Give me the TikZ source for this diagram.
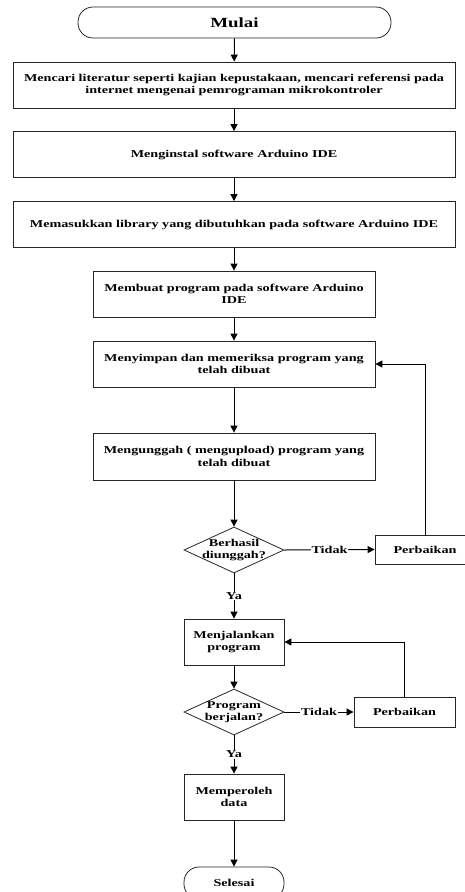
\documentclass[tikz,border=0pt]{standalone}
\usepackage{fontspec}
\setmainfont{Liberation Serif}[FakeStretch=1.35]
\usepackage{tikz}
\usetikzlibrary{arrows.meta}
\usetikzlibrary{shapes.geometric}
\tikzset{>={Triangle[length=7pt,width=7pt]}}
\tikzset{box/.style = {draw=black!85, line width=0.8pt, align=center, inner sep=2pt,
    font=\fontsize{10.5}{12.6}\selectfont\bfseries}}
\tikzset{term/.style = {box, rounded corners=15pt}}
\tikzset{decide/.style = {draw=black!85, line width=0.8pt, diamond, inner sep=0,
    minimum width=100pt, minimum height=46pt}}
\tikzset{lbl/.style = {align=center, inner sep=1pt, font=\fontsize{10.5}{12.6}\selectfont\bfseries}}
\tikzset{flow/.style = {->, line width=1pt}}

\begin{document}
\begin{tikzpicture}[x=1pt, y=-1pt]
\useasboundingbox (0, 0) rectangle (464, 892);
%\node [draw=none] at (0,0) {};
\node [term, minimum width=313pt, minimum height=31pt, font=\fontsize{14}{16}\selectfont\bfseries] (mulai) at (234.5, 22.5) {Mulai};
\node [box, minimum width=442pt, minimum height=46pt] (cari) at (234, 85) {Mencari literatur seperti kajian kepustakaan, mencari referensi pada\\internet mengenai pemrograman mikrokontroler};
\node [box, minimum width=442pt, minimum height=46pt] (instal) at (234, 154.5) {Menginstal software Arduino IDE};
\node [box, minimum width=442pt, minimum height=46pt] (lib) at (234, 224.5) {Memasukkan library yang dibutuhkan pada software Arduino IDE};
\node [box, minimum width=282pt, minimum height=46pt] (buat) at (234, 294) {Membuat program pada software Arduino\\IDE};
\node [box, minimum width=282pt, minimum height=46pt] (simpan) at (234, 364) {Menyimpan dan memeriksa program yang\\telah dibuat};
\node [box, minimum width=282pt, minimum height=47pt] (unggah) at (234, 456.5) {Mengunggah ( mengupload) program yang\\telah dibuat};
\node [decide] (cek1) at (234, 550) {};
\node [lbl] (cek1t) at (cek1) {Berhasil\\diunggah?};
\node [box, minimum width=100pt, minimum height=29pt] (baik1) at (425, 549.5) {Perbaikan};
\node [box, minimum width=100pt, minimum height=46pt] (jalan) at (234, 642) {Menjalankan\\program};
\node [decide] (cek2) at (234, 712) {};
\node [lbl] (cek2t) at (cek2) {Program\\berjalan?};
\node [box, minimum width=101pt, minimum height=30pt] (baik2) at (404.5, 712) {Perbaikan};
\node [box, minimum width=100pt, minimum height=46pt] (data) at (234, 797) {Memperoleh\\data};
\node [term, minimum width=100pt, minimum height=32pt] (selesai) at (234, 883) {Selesai};

\draw [flow] (mulai) to (cari);
\draw [flow] (cari) to (instal);
\draw [flow] (instal) to (lib);
\draw [flow] (lib) to (buat);
\draw [flow] (buat) to (simpan);
\draw [flow] (simpan) to (unggah);
\draw [flow] (unggah) to (cek1);
\draw [flow] (cek1.east) to node [lbl, fill=white] {Tidak} (baik1.west);
\draw [flow] (baik1.north) |- (simpan.east);
\draw [flow] (cek1.south) to node [lbl, fill=white] {Ya} (jalan.north);
\draw [flow] (jalan) to (cek2);
\draw [flow] (cek2.east) to node [lbl, fill=white] {Tidak} (baik2.west);
\draw [flow] (baik2.north) |- (jalan.east);
\draw [flow] (cek2.south) to node [lbl, fill=white] {Ya} (data.north);
\draw [flow] (data) to (selesai);
\end{tikzpicture}
\end{document}
